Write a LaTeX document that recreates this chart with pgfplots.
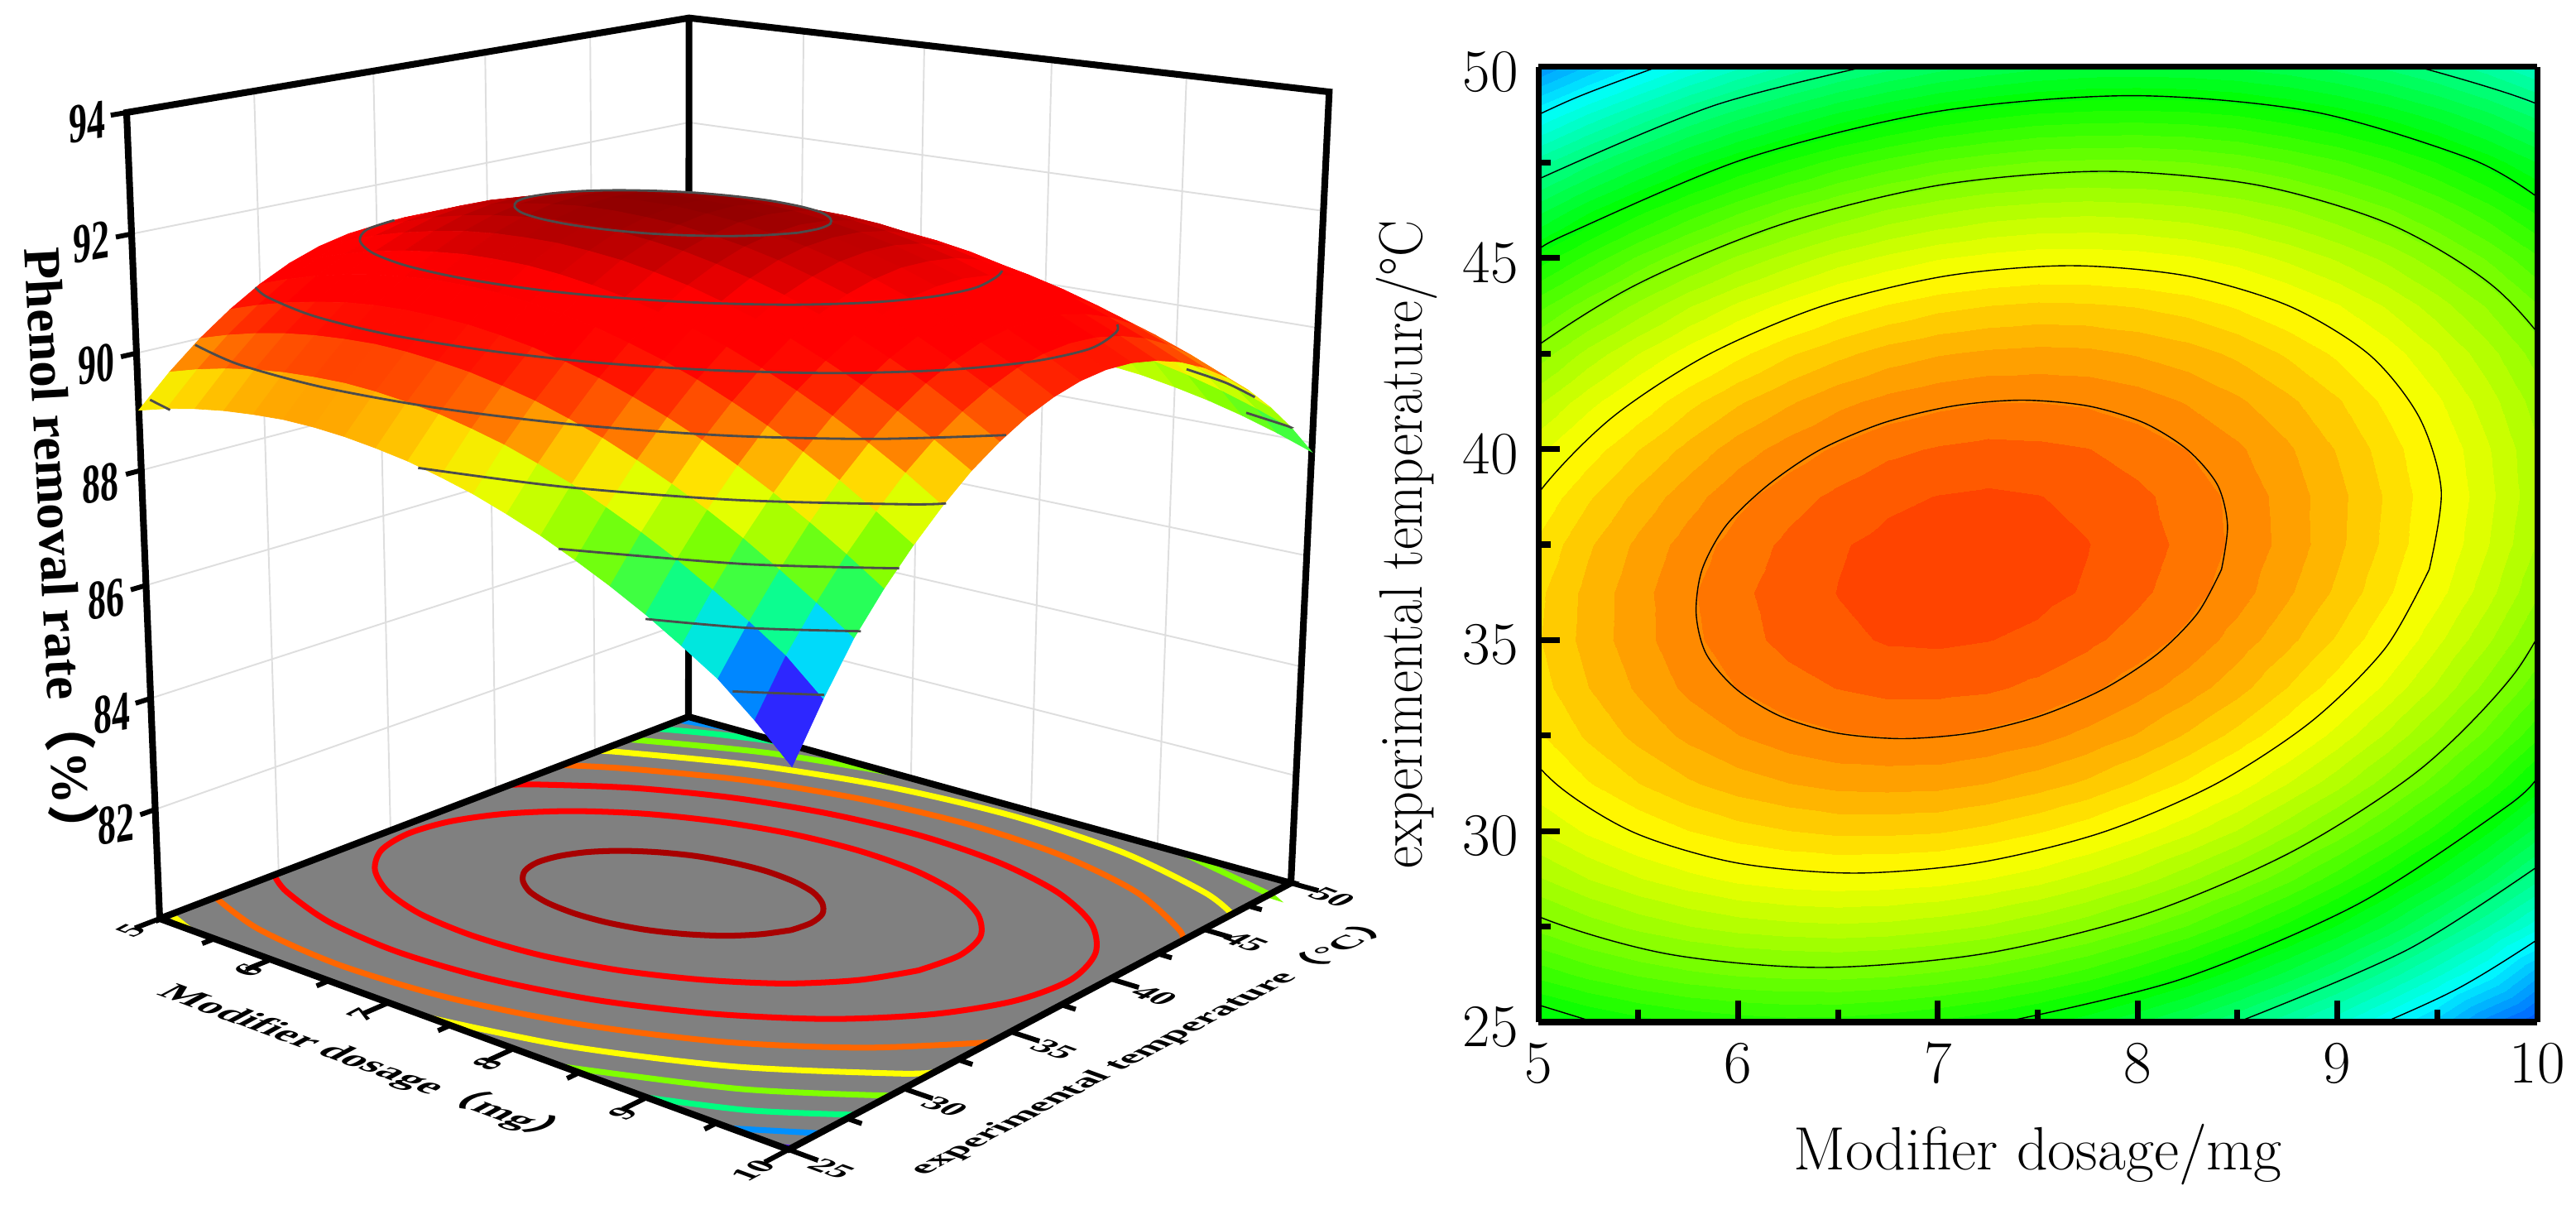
\documentclass[border=0pt]{standalone}
\usepackage{pgfplots}
\usepackage{pgfplotstable}
\usepackage{fontspec}
\pgfplotsset{compat=1.18}
\newfontfamily\tnr{Liberation Serif}
\newfontfamily\cjk{Noto Sans CJK SC}
% removal rate, x=dosage y=temperature z=rate
\pgfplotstableread[row sep=\\]{x y z\\%
5 25 89.03\\5 26.25 89.55\\5 27.5 90.00\\5 28.75 90.38\\5 30 90.70\\5 31.25 90.95\\5 32.5 91.13\\5 33.75 91.24\\5 35 91.29\\5 36.25 91.27\\5 37.5 91.18\\5 38.75 91.03\\5 40 90.81\\5 41.25 90.52\\5 42.5 90.16\\5 43.75 89.74\\5 45 89.25\\5 46.25 88.69\\5 47.5 88.07\\5 48.75 87.38\\5 50 86.62\\%
5.25 25 89.17\\5.25 26.25 89.70\\5.25 27.5 90.16\\5.25 28.75 90.55\\5.25 30 90.88\\5.25 31.25 91.14\\5.25 32.5 91.33\\5.25 33.75 91.45\\5.25 35 91.51\\5.25 36.25 91.50\\5.25 37.5 91.43\\5.25 38.75 91.28\\5.25 40 91.07\\5.25 41.25 90.79\\5.25 42.5 90.45\\5.25 43.75 90.03\\5.25 45 89.55\\5.25 46.25 89.01\\5.25 47.5 88.39\\5.25 48.75 87.71\\5.25 50 86.96\\%
5.5 25 89.28\\5.5 26.25 89.82\\5.5 27.5 90.29\\5.5 28.75 90.69\\5.5 30 91.03\\5.5 31.25 91.30\\5.5 32.5 91.50\\5.5 33.75 91.63\\5.5 35 91.70\\5.5 36.25 91.70\\5.5 37.5 91.64\\5.5 38.75 91.50\\5.5 40 91.30\\5.5 41.25 91.03\\5.5 42.5 90.70\\5.5 43.75 90.29\\5.5 45 89.83\\5.5 46.25 89.29\\5.5 47.5 88.68\\5.5 48.75 88.01\\5.5 50 87.27\\%
5.75 25 89.36\\5.75 26.25 89.91\\5.75 27.5 90.39\\5.75 28.75 90.80\\5.75 30 91.15\\5.75 31.25 91.43\\5.75 32.5 91.64\\5.75 33.75 91.79\\5.75 35 91.86\\5.75 36.25 91.88\\5.75 37.5 91.82\\5.75 38.75 91.69\\5.75 40 91.50\\5.75 41.25 91.25\\5.75 42.5 90.92\\5.75 43.75 90.53\\5.75 45 90.07\\5.75 46.25 89.54\\5.75 47.5 88.95\\5.75 48.75 88.29\\5.75 50 87.56\\%
6 25 89.41\\6 26.25 89.97\\6 27.5 90.46\\6 28.75 90.89\\6 30 91.24\\6 31.25 91.53\\6 32.5 91.75\\6 33.75 91.91\\6 35 92.00\\6 36.25 92.02\\6 37.5 91.97\\6 38.75 91.86\\6 40 91.68\\6 41.25 91.43\\6 42.5 91.11\\6 43.75 90.73\\6 45 90.28\\6 46.25 89.76\\6 47.5 89.18\\6 48.75 88.53\\6 50 87.81\\%
6.25 25 89.44\\6.25 26.25 90.00\\6.25 27.5 90.50\\6.25 28.75 90.94\\6.25 30 91.30\\6.25 31.25 91.60\\6.25 32.5 91.84\\6.25 33.75 92.00\\6.25 35 92.10\\6.25 36.25 92.13\\6.25 37.5 92.09\\6.25 38.75 91.99\\6.25 40 91.82\\6.25 41.25 91.58\\6.25 42.5 91.28\\6.25 43.75 90.90\\6.25 45 90.46\\6.25 46.25 89.96\\6.25 47.5 89.38\\6.25 48.75 88.74\\6.25 50 88.03\\%
6.5 25 89.43\\6.5 26.25 90.01\\6.5 27.5 90.52\\6.5 28.75 90.96\\6.5 30 91.34\\6.5 31.25 91.65\\6.5 32.5 91.89\\6.5 33.75 92.06\\6.5 35 92.17\\6.5 36.25 92.21\\6.5 37.5 92.19\\6.5 38.75 92.09\\6.5 40 91.93\\6.5 41.25 91.71\\6.5 42.5 91.41\\6.5 43.75 91.05\\6.5 45 90.62\\6.5 46.25 90.12\\6.5 47.5 89.56\\6.5 48.75 88.93\\6.5 50 88.23\\%
6.75 25 89.39\\6.75 26.25 89.98\\6.75 27.5 90.50\\6.75 28.75 90.95\\6.75 30 91.34\\6.75 31.25 91.66\\6.75 32.5 91.91\\6.75 33.75 92.10\\6.75 35 92.22\\6.75 36.25 92.27\\6.75 37.5 92.25\\6.75 38.75 92.17\\6.75 40 92.02\\6.75 41.25 91.80\\6.75 42.5 91.52\\6.75 43.75 91.16\\6.75 45 90.74\\6.75 46.25 90.26\\6.75 47.5 89.70\\6.75 48.75 89.08\\6.75 50 88.39\\%
7 25 89.32\\7 26.25 89.92\\7 27.5 90.45\\7 28.75 90.92\\7 30 91.32\\7 31.25 91.65\\7 32.5 91.91\\7 33.75 92.10\\7 35 92.23\\7 36.25 92.29\\7 37.5 92.29\\7 38.75 92.21\\7 40 92.07\\7 41.25 91.86\\7 42.5 91.59\\7 43.75 91.25\\7 45 90.84\\7 46.25 90.36\\7 47.5 89.82\\7 48.75 89.21\\7 50 88.53\\%
7.25 25 89.23\\7.25 26.25 89.84\\7.25 27.5 90.38\\7.25 28.75 90.85\\7.25 30 91.26\\7.25 31.25 91.60\\7.25 32.5 91.87\\7.25 33.75 92.08\\7.25 35 92.21\\7.25 36.25 92.29\\7.25 37.5 92.29\\7.25 38.75 92.23\\7.25 40 92.10\\7.25 41.25 91.90\\7.25 42.5 91.63\\7.25 43.75 91.30\\7.25 45 90.90\\7.25 46.25 90.44\\7.25 47.5 89.90\\7.25 48.75 89.30\\7.25 50 88.63\\%
7.5 25 89.10\\7.5 26.25 89.72\\7.5 27.5 90.27\\7.5 28.75 90.76\\7.5 30 91.17\\7.5 31.25 91.52\\7.5 32.5 91.81\\7.5 33.75 92.02\\7.5 35 92.17\\7.5 36.25 92.25\\7.5 37.5 92.27\\7.5 38.75 92.21\\7.5 40 92.09\\7.5 41.25 91.90\\7.5 42.5 91.65\\7.5 43.75 91.33\\7.5 45 90.94\\7.5 46.25 90.48\\7.5 47.5 89.96\\7.5 48.75 89.37\\7.5 50 88.71\\%
7.75 25 88.95\\7.75 26.25 89.58\\7.75 27.5 90.14\\7.75 28.75 90.63\\7.75 30 91.06\\7.75 31.25 91.42\\7.75 32.5 91.71\\7.75 33.75 91.94\\7.75 35 92.09\\7.75 36.25 92.19\\7.75 37.5 92.21\\7.75 38.75 92.17\\7.75 40 92.06\\7.75 41.25 91.88\\7.75 42.5 91.64\\7.75 43.75 91.32\\7.75 45 90.94\\7.75 46.25 90.50\\7.75 47.5 89.98\\7.75 48.75 89.40\\7.75 50 88.76\\%
8 25 88.76\\8 26.25 89.40\\8 27.5 89.97\\8 28.75 90.48\\8 30 90.91\\8 31.25 91.28\\8 32.5 91.59\\8 33.75 91.82\\8 35 91.99\\8 36.25 92.09\\8 37.5 92.13\\8 38.75 92.09\\8 40 91.99\\8 41.25 91.83\\8 42.5 91.59\\8 43.75 91.29\\8 45 90.92\\8 46.25 90.48\\8 47.5 89.98\\8 48.75 89.41\\8 50 88.77\\%
8.25 25 88.55\\8.25 26.25 89.20\\8.25 27.5 89.78\\8.25 28.75 90.29\\8.25 30 90.74\\8.25 31.25 91.12\\8.25 32.5 91.43\\8.25 33.75 91.68\\8.25 35 91.86\\8.25 36.25 91.97\\8.25 37.5 92.01\\8.25 38.75 91.99\\8.25 40 91.90\\8.25 41.25 91.74\\8.25 42.5 91.52\\8.25 43.75 91.23\\8.25 45 90.87\\8.25 46.25 90.44\\8.25 47.5 89.95\\8.25 48.75 89.39\\8.25 50 88.76\\%
8.5 25 88.30\\8.5 26.25 88.96\\8.5 27.5 89.55\\8.5 28.75 90.08\\8.5 30 90.54\\8.5 31.25 90.93\\8.5 32.5 91.25\\8.5 33.75 91.51\\8.5 35 91.69\\8.5 36.25 91.82\\8.5 37.5 91.87\\8.5 38.75 91.86\\8.5 40 91.78\\8.5 41.25 91.63\\8.5 42.5 91.42\\8.5 43.75 91.13\\8.5 45 90.79\\8.5 46.25 90.37\\8.5 47.5 89.89\\8.5 48.75 89.34\\8.5 50 88.72\\%
8.75 25 88.03\\8.75 26.25 88.70\\8.75 27.5 89.30\\8.75 28.75 89.84\\8.75 30 90.30\\8.75 31.25 90.70\\8.75 32.5 91.04\\8.75 33.75 91.30\\8.75 35 91.50\\8.75 36.25 91.63\\8.75 37.5 91.70\\8.75 38.75 91.69\\8.75 40 91.63\\8.75 41.25 91.49\\8.75 42.5 91.28\\8.75 43.75 91.01\\8.75 45 90.67\\8.75 46.25 90.27\\8.75 47.5 89.79\\8.75 48.75 89.25\\8.75 50 88.65\\%
9 25 87.73\\9 26.25 88.41\\9 27.5 89.02\\9 28.75 89.56\\9 30 90.04\\9 31.25 90.45\\9 32.5 90.79\\9 33.75 91.07\\9 35 91.28\\9 36.25 91.42\\9 37.5 91.49\\9 38.75 91.50\\9 40 91.44\\9 41.25 91.32\\9 42.5 91.12\\9 43.75 90.86\\9 45 90.53\\9 46.25 90.13\\9 47.5 89.67\\9 48.75 89.14\\9 50 88.54\\%
9.25 25 87.39\\9.25 26.25 88.08\\9.25 27.5 88.71\\9.25 28.75 89.26\\9.25 30 89.75\\9.25 31.25 90.17\\9.25 32.5 90.52\\9.25 33.75 90.81\\9.25 35 91.03\\9.25 36.25 91.18\\9.25 37.5 91.26\\9.25 38.75 91.28\\9.25 40 91.23\\9.25 41.25 91.11\\9.25 42.5 90.93\\9.25 43.75 90.68\\9.25 45 90.36\\9.25 46.25 89.97\\9.25 47.5 89.52\\9.25 48.75 89.00\\9.25 50 88.41\\%
9.5 25 87.03\\9.5 26.25 87.73\\9.5 27.5 88.36\\9.5 28.75 88.93\\9.5 30 89.43\\9.5 31.25 89.86\\9.5 32.5 90.22\\9.5 33.75 90.52\\9.5 35 90.74\\9.5 36.25 90.91\\9.5 37.5 91.00\\9.5 38.75 91.03\\9.5 40 90.99\\9.5 41.25 90.88\\9.5 42.5 90.71\\9.5 43.75 90.47\\9.5 45 90.16\\9.5 46.25 89.78\\9.5 47.5 89.34\\9.5 48.75 88.83\\9.5 50 88.25\\%
9.75 25 86.55\\9.75 26.25 87.35\\9.75 27.5 87.99\\9.75 28.75 88.57\\9.75 30 89.07\\9.75 31.25 89.52\\9.75 32.5 89.89\\9.75 33.75 90.19\\9.75 35 90.43\\9.75 36.25 90.61\\9.75 37.5 90.71\\9.75 38.75 90.75\\9.75 40 90.72\\9.75 41.25 90.62\\9.75 42.5 90.46\\9.75 43.75 90.23\\9.75 45 89.93\\9.75 46.25 89.56\\9.75 47.5 89.13\\9.75 48.75 88.63\\9.75 50 88.06\\%
10 25 86.00\\10 26.25 86.84\\10 27.5 87.59\\10 28.75 88.18\\10 30 88.69\\10 31.25 89.14\\10 32.5 89.53\\10 33.75 89.84\\10 35 90.09\\10 36.25 90.27\\10 37.5 90.39\\10 38.75 90.44\\10 40 90.42\\10 41.25 90.33\\10 42.5 90.18\\10 43.75 89.96\\10 45 89.67\\10 46.25 89.31\\10 47.5 88.89\\10 48.75 88.40\\10 50 87.84\\%
}\surfdata
% contour traces on the floor of the 3D panel
\pgfplotstableread[row sep=\\]{x y\\8.09 36.85\\8.11 37.70\\8.07 38.49\\7.96 39.17\\7.80 39.70\\7.59 40.02\\7.34 40.14\\7.09 40.02\\6.83 39.70\\6.60 39.17\\6.40 38.49\\6.25 37.70\\6.16 36.85\\6.13 36.00\\6.17 35.21\\6.28 34.53\\6.44 34.00\\6.65 33.68\\6.90 33.57\\7.15 33.68\\7.41 34.00\\7.64 34.53\\7.84 35.21\\7.99 36.00\\8.09 36.85\\}\lA
\pgfplotstableread[row sep=\\]{x y\\9.06 36.85\\9.11 38.56\\9.03 40.16\\8.81 41.53\\8.48 42.58\\8.06 43.24\\7.57 43.46\\7.05 43.24\\6.54 42.58\\6.06 41.53\\5.66 40.16\\5.36 38.56\\5.18 36.85\\5.13 35.14\\5.21 33.54\\5.43 32.17\\5.76 31.12\\6.18 30.46\\6.67 30.24\\7.19 30.46\\7.70 31.12\\8.17 32.17\\8.58 33.54\\8.88 35.14\\9.06 36.85\\}\lB
\pgfplotstableread[row sep=\\]{x y\\5 40.7\\5.14 41.34\\5.69 43.20\\6.33 44.63\\7.03 45.52\\7.73 45.83\\8.39 45.52\\8.97 44.63\\9.42 43.20\\9.71 41.34\\9.83 39.17\\9.76 36.85\\9.51 34.53\\9.10 32.36\\8.55 30.50\\7.91 29.07\\7.21 28.18\\6.51 27.87\\5.85 28.18\\5.27 29.07\\5 29.8\\}\lC
\pgfplotstableread[row sep=\\]{x y\\5 43.3\\5.40 44.50\\6.17 46.22\\7.01 47.30\\7.86 47.67\\8.65 47.30\\9.35 46.22\\9.89 44.50\\10 43.8\\}\lDa
\pgfplotstableread[row sep=\\]{x y\\10 34.05\\9.50 31.44\\8.85 29.20\\8.07 27.48\\7.23 26.40\\6.38 26.03\\5.59 26.40\\5 27.3\\}\lDb
\pgfplotstableread[row sep=\\]{x y\\5 45.2\\5.14 45.62\\6.03 47.59\\6.99 48.83\\7.97 49.25\\8.88 48.83\\9.67 47.59\\10 46.6\\}\lEa
\pgfplotstableread[row sep=\\]{x y\\10 31.4\\9.85 30.65\\9.10 28.08\\8.21 26.11\\7.33 25\\}\lEb
\pgfplotstableread[row sep=\\]{x y\\5 25.45\\5.28 25\\}\lEc
\pgfplotstableread[row sep=\\]{x y\\5 46.8\\5.91 48.81\\6.83 50\\}\lFa
\pgfplotstableread[row sep=\\]{x y\\9.20 50\\9.96 48.81\\10 48.7\\}\lFb
\pgfplotstableread[row sep=\\]{x y\\10 29.4\\9.32 27.08\\8.38 25\\}\lFc
\pgfplotstableread[row sep=\\]{x y\\5 48.3\\5.4 49.2\\5.85 50\\}\lGa
\pgfplotstableread[row sep=\\]{x y\\10 27.8\\9.53 26.18\\9 25\\}\lGb
\pgfplotstableread[row sep=\\]{x y\\5 49.5\\5.4 50\\}\lHa
\pgfplotstableread[row sep=\\]{x y\\10 26.3\\9.71 25.35\\9.6 25\\}\lHb
\pgfplotstableread[row sep=\\]{x y\\10 25.12\\9.95 25\\}\lIa
% visible stretches of the same traces on the surface
\pgfplotstableread[row sep=\\]{x y\\5.13 35.14\\5.21 33.54\\5.43 32.17\\5.76 31.12\\6.18 30.46\\6.67 30.24\\7.19 30.46\\7.70 31.12\\8.17 32.17\\8.58 33.54\\8.88 35.14\\9.06 36.85\\9.11 38.56\\9.03 40.16\\8.95 41\\}\sB
\pgfplotstableread[row sep=\\]{x y\\5 29.8\\5.27 29.07\\5.85 28.18\\6.51 27.87\\7.21 28.18\\7.91 29.07\\8.55 30.50\\9.10 32.36\\9.51 34.53\\9.76 36.85\\9.83 39.17\\9.71 41.34\\9.6 42.2\\}\sC
\pgfplotstableread[row sep=\\]{x y\\9.3 48.3\\9.67 47.59\\10 46.6\\}\sEa
\pgfplotstableread[row sep=\\]{x y\\9.6 49.4\\9.96 48.81\\10 48.7\\}\sFb
% contour traces of the flat panel
\pgfplotstableread[row sep=\\]{x y\\8.42 36.85\\8.45 38.00\\8.40 39.06\\8.25 39.98\\8.03 40.69\\7.75 41.13\\7.42 41.28\\7.08 41.13\\6.73 40.69\\6.41 39.98\\6.15 39.06\\5.94 38.00\\5.82 36.85\\5.79 35.70\\5.84 34.64\\5.99 33.72\\6.21 33.01\\6.49 32.57\\6.82 32.42\\7.17 32.57\\7.51 33.01\\7.83 33.72\\8.10 34.64\\8.30 35.70\\8.42 36.85\\}\rA
\pgfplotstableread[row sep=\\]{x y\\9.46 36.85\\9.52 38.91\\9.41 40.83\\9.16 42.47\\8.76 43.74\\8.25 44.53\\7.66 44.80\\7.04 44.53\\6.42 43.74\\5.85 42.47\\5.37 40.83\\5.01 38.91\\4.79 36.85\\4.72 34.79\\4.83 32.87\\5.09 31.23\\5.48 29.96\\5.99 29.17\\6.58 28.90\\7.20 29.17\\7.82 29.96\\8.39 31.23\\8.87 32.87\\9.24 34.79\\9.46 36.85\\}\rB
\pgfplotstableread[row sep=\\]{x y\\10.18 36.85\\10.26 39.55\\10.13 42.06\\9.79 44.22\\9.27 45.87\\8.60 46.91\\7.83 47.27\\7.01 46.91\\6.21 45.87\\5.46 44.22\\4.83 42.06\\4.35 39.55\\4.06 36.85\\3.98 34.15\\4.12 31.64\\4.45 29.48\\4.97 27.83\\5.64 26.79\\6.41 26.43\\7.23 26.79\\8.04 27.83\\8.78 29.48\\9.42 31.64\\9.89 34.15\\10.18 36.85\\}\rC
\pgfplotstableread[row sep=\\]{x y\\4.88 46.78\\5.89 49.01\\6.98 50.41\\}\rEa
\pgfplotstableread[row sep=\\]{x y\\9.11 50.41\\10.01 49.01\\10.71 46.78\\}\rEb
\pgfplotstableread[row sep=\\]{x y\\8.35 24.69\\9.36 26.92\\10.21 29.83\\}\rEc
\pgfplotstableread[row sep=\\]{x y\\4.64 47.84\\5.18 49.18\\5.76 50.31\\}\rFa
\pgfplotstableread[row sep=\\]{x y\\8.485 23.40\\9.60 25.87\\10.54 29.08\\}\rFb

\pgfplotsset{
  colormap={rsmone}{rgb255=(80,0,255) rgb255=(0,90,255) rgb255=(0,215,255) rgb255=(0,250,185) rgb255=(24,255,104) rgb255=(75,255,53) rgb255=(126,255,2) rgb255=(177,255,0) rgb255=(228,255,0) rgb255=(255,226,0) rgb255=(255,165,0) rgb255=(255,104,0) rgb255=(255,63,0) rgb255=(255,22,0) rgb255=(255,0,0) rgb255=(255,0,0) rgb255=(255,0,0) rgb255=(218,0,0) rgb255=(180,0,0) rgb255=(139,0,0)},
  colormap={rsmbands}{rgb255=(0,91,255) rgb255=(0,113,255) rgb255=(0,135,255) rgb255=(0,157,255) rgb255=(0,179,255) rgb255=(0,201,255) rgb255=(0,223,255) rgb255=(0,245,255) rgb255=(0,255,243) rgb255=(0,255,222) rgb255=(0,255,201) rgb255=(0,255,179) rgb255=(0,255,158) rgb255=(0,255,137) rgb255=(0,255,115) rgb255=(0,255,93) rgb255=(0,255,72) rgb255=(0,255,50) rgb255=(0,255,28) rgb255=(0,255,6) rgb255=(15,255,0) rgb255=(36,255,0) rgb255=(57,255,0) rgb255=(78,255,0) rgb255=(99,255,0) rgb255=(119,255,0) rgb255=(140,255,0) rgb255=(161,255,0) rgb255=(181,255,0) rgb255=(202,255,0) rgb255=(223,255,0) rgb255=(244,255,0) rgb255=(255,246,0) rgb255=(255,224,0) rgb255=(255,203,0) rgb255=(255,181,0) rgb255=(255,160,0) rgb255=(255,138,0) rgb255=(255,117,0) rgb255=(255,90,0) rgb255=(255,68,0)},
  table/proj/.style={x expr={pxx(\thisrow{x},\thisrow{y},\thisrow{z})},y expr={1455-pyy(\thisrow{x},\thisrow{y},\thisrow{z})},z expr={0}},
  table/lev/.style={x expr={pxx(\thisrow{x},\thisrow{y},#1)},y expr={1455-pyy(\thisrow{x},\thisrow{y},#1)},z index=1,z expr={0}},
  table/flat/.style={x=x,y=y,z index=1,z expr={93}},
}
\definecolor{lvA}{RGB}{168,0,0}
\definecolor{lvB}{RGB}{255,0,0}
\definecolor{lvD}{RGB}{255,102,0}
\definecolor{lvE}{RGB}{255,255,0}
\definecolor{lvF}{RGB}{128,255,0}
\definecolor{lvG}{RGB}{0,255,128}
\definecolor{lvH}{RGB}{0,144,255}
\definecolor{lvI}{RGB}{80,0,255}
\definecolor{wallgrid}{RGB}{222,222,222}
\definecolor{floorgray}{RGB}{128,128,128}

\begin{document}
\begin{tikzpicture}
\useasboundingbox (0,0) rectangle (31.13,14.55);
\begin{axis}[
  at={(0cm,0cm)},anchor=south west,
  scale only axis,width=31.13cm,height=14.55cm,
  xmin=0,xmax=3113,ymin=0,ymax=1455,zmin=-3,zmax=3,
  view={0}{90},hide axis,clip=false,
  colormap name=rsmone,point meta min=86.85,point meta max=92.3,
  unbounded coords=jump,
  declare function={
    dnm(\a,\b,\c)=1-0.14127*(\a-5)/5+0.16175*(\b-25)/25-0.06*(\c-80)/14;
    pxx(\a,\b,\c)=(625.37*(\a-5)/5+773.58*(\b-25)/25-49.18*(\c-80)/14+193)/dnm(\a,\b,\c);
    pyy(\a,\b,\c)=(82.78*(\a-5)/5-103.92*(\b-25)/25-982.16*(\c-80)/14+1110)/dnm(\a,\b,\c);
  },
]
% wall grid
\addplot3[wallgrid,line width=0.55pt] table[proj,row sep=\\]{x y z\\%
5 25 82\\5 50 82\\10 50 82\\nan nan nan\\5 25 84\\5 50 84\\10 50 84\\nan nan nan\\5 25 86\\5 50 86\\10 50 86\\nan nan nan\\5 25 88\\5 50 88\\10 50 88\\nan nan nan\\5 25 90\\5 50 90\\10 50 90\\nan nan nan\\5 25 92\\5 50 92\\10 50 92\\nan nan nan\\%
5 30 80\\5 30 94\\nan nan nan\\5 35 80\\5 35 94\\nan nan nan\\5 40 80\\5 40 94\\nan nan nan\\5 45 80\\5 45 94\\nan nan nan\\6 50 80\\6 50 94\\nan nan nan\\7 50 80\\7 50 94\\nan nan nan\\8 50 80\\8 50 94\\nan nan nan\\9 50 80\\9 50 94\\};
% floor
\addplot3[fill=floorgray,draw=none] table[proj,row sep=\\]{x y z\\5 25 80\\10 25 80\\10 50 80\\5 50 80\\5 25 80\\};
% floor contours
\addplot3[lvA,line width=2pt,smooth] table[lev=80]{\lA};
\addplot3[lvB,line width=2pt,smooth] table[lev=80]{\lB};
\addplot3[lvB,line width=2pt,smooth] table[lev=80]{\lC};
\addplot3[lvD,line width=2pt,smooth] table[lev=80]{\lDa};
\addplot3[lvD,line width=2pt,smooth] table[lev=80]{\lDb};
\addplot3[lvE,line width=2pt,smooth] table[lev=80]{\lEa};
\addplot3[lvE,line width=2pt,smooth] table[lev=80]{\lEb};
\addplot3[lvE,line width=2pt] table[lev=80]{\lEc};
\addplot3[lvF,line width=2pt,smooth] table[lev=80]{\lFa};
\addplot3[lvF,line width=2pt,smooth] table[lev=80]{\lFb};
\addplot3[lvF,line width=2pt,smooth] table[lev=80]{\lFc};
\addplot3[lvG,line width=2pt,smooth] table[lev=80]{\lGa};
\addplot3[lvG,line width=2pt,smooth] table[lev=80]{\lGb};
\addplot3[lvH,line width=2pt] table[lev=80]{\lHa};
\addplot3[lvH,line width=2pt,smooth] table[lev=80]{\lHb};
\addplot3[lvI,line width=2pt] table[lev=80]{\lIa};
% frame
\addplot3[black,line width=2.3pt,line join=miter] table[proj,row sep=\\]{x y z\\5 25 80\\10 25 80\\10 50 80\\5 50 80\\5 25 80\\5 25 94\\5 50 94\\10 50 94\\10 50 80\\nan nan nan\\5 50 80\\5 50 94\\};
% ticks
\addplot3[black,line width=1.7pt] table[proj,row sep=\\]{x y z\\%
5 25 80\\5 24 80\\nan nan nan\\5.5 25 80\\5.5 24.5 80\\nan nan nan\\6 25 80\\6 24 80\\nan nan nan\\6.5 25 80\\6.5 24.5 80\\nan nan nan\\7 25 80\\7 24 80\\nan nan nan\\7.5 25 80\\7.5 24.5 80\\nan nan nan\\8 25 80\\8 24 80\\nan nan nan\\8.5 25 80\\8.5 24.5 80\\nan nan nan\\9 25 80\\9 24 80\\nan nan nan\\9.5 25 80\\9.5 24.5 80\\nan nan nan\\10 25 80\\10 24 80\\nan nan nan\\%
10 25 80\\10.2 25 80\\nan nan nan\\10 27.5 80\\10.1 27.5 80\\nan nan nan\\10 30 80\\10.2 30 80\\nan nan nan\\10 32.5 80\\10.1 32.5 80\\nan nan nan\\10 35 80\\10.2 35 80\\nan nan nan\\10 37.5 80\\10.1 37.5 80\\nan nan nan\\10 40 80\\10.2 40 80\\nan nan nan\\10 42.5 80\\10.1 42.5 80\\nan nan nan\\10 45 80\\10.2 45 80\\nan nan nan\\10 47.5 80\\10.1 47.5 80\\nan nan nan\\10 50 80\\10.2 50 80\\nan nan nan\\%
5 25 82\\5 24.4 82\\nan nan nan\\5 25 84\\5 24.4 84\\nan nan nan\\5 25 86\\5 24.4 86\\nan nan nan\\5 25 88\\5 24.4 88\\nan nan nan\\5 25 90\\5 24.4 90\\nan nan nan\\5 25 92\\5 24.4 92\\nan nan nan\\5 25 94\\5 24.4 94\\};
% surface
\addplot3[surf,shader=faceted,faceted color=mapped color,line width=0.2pt,z buffer=sort,mesh/rows=21,mesh/cols=21,mesh/ordering=y varies,point meta=\thisrow{z}]
  table[x expr={pxx(\thisrow{x},\thisrow{y},\thisrow{z})},y expr={1455-pyy(\thisrow{x},\thisrow{y},\thisrow{z})},z expr={(\thisrow{x}-5)/5-(\thisrow{y}-25)/25+0.8*(\thisrow{z}-80)/14}]{\surfdata};
% surface contours
\addplot3[black!70,line width=0.8pt,smooth] table[lev=92.09]{\lA};
\addplot3[black!70,line width=0.8pt,smooth] table[lev=91.41]{\sB};
\addplot3[black!70,line width=0.8pt,smooth] table[lev=90.66]{\sC};
\addplot3[black!70,line width=0.8pt,smooth] table[lev=89.91]{\lDb};
\addplot3[black!70,line width=0.8pt,smooth] table[lev=89.16]{\lEb};
\addplot3[black!70,line width=0.8pt] table[lev=89.16]{\lEc};
\addplot3[black!70,line width=0.8pt,smooth] table[lev=89.16]{\sEa};
\addplot3[black!70,line width=0.8pt,smooth] table[lev=88.41]{\lFc};
\addplot3[black!70,line width=0.8pt,smooth] table[lev=88.41]{\sFb};
\addplot3[black!70,line width=0.8pt,smooth] table[lev=87.66]{\lGb};
\addplot3[black!70,line width=0.8pt,smooth] table[lev=86.90]{\lHb};
\end{axis}
% flat panel
\begin{axis}[
  at={(18.59cm,2.20cm)},anchor=south west,
  scale only axis,width=12.07cm,height=11.54cm,
  xmin=5,xmax=10,ymin=25,ymax=50,zmin=85,zmax=94,
  view={0}{90},
  xtick={5,6,7,8,9,10},ytick={25,30,35,40,45,50},
  minor x tick num=1,minor y tick num=1,
  tick align=inside,xtick pos=lower,ytick pos=left,
  major tick length=0.26cm,minor tick length=0.15cm,
  axis line style={line width=2pt},
  tick style={black,line width=2pt},
  every tick label/.append style={font=\fontsize{19.5}{19.5}\selectfont},
  xticklabel style={yshift=-0.14cm},
  yticklabel style={xshift=-0.12cm,yshift=-0.06cm},
  xlabel={Modifier dosage/mg},ylabel={experimental temperature/\textdegree C},
  xlabel style={font=\fontsize{21}{21}\selectfont,at={(axis description cs:0.5,0)},anchor=center,yshift=-1.6cm},
  ylabel style={font=\fontsize{18.8}{18.8}\selectfont,at={(axis description cs:0,0.5)},anchor=center,yshift=1.59cm,yscale=1.12},
  colormap name=rsmbands,point meta min=86.185,point meta max=92.356,
  axis on top,
]
\addplot3[surf,shader=interp,colormap access=piecewise constant,mesh/rows=21,mesh/cols=21,mesh/ordering=y varies,point meta=\thisrow{z}] table[x=x,y=y,z=z]{\surfdata};
\addplot3[black,line width=0.4pt,smooth] table[flat]{\rA};
\addplot3[black,line width=0.4pt,smooth] table[flat]{\rB};
\addplot3[black,line width=0.4pt,smooth] table[flat]{\rC};
\addplot3[black,line width=0.4pt,smooth] table[flat]{\lEa};
\addplot3[black,line width=0.4pt,smooth] table[flat]{\lEb};
\addplot3[black,line width=0.4pt] table[flat]{\lEc};
\addplot3[black,line width=0.4pt,smooth] table[flat]{\rEa};
\addplot3[black,line width=0.4pt,smooth] table[flat]{\rEb};
\addplot3[black,line width=0.4pt,smooth] table[flat]{\rEc};
\addplot3[black,line width=0.4pt,smooth] table[flat]{\rFa};
\addplot3[black,line width=0.4pt,smooth] table[flat]{\rFb};
\end{axis}
% labels of the 3D panel
\tikzset{ztl/.style={font=\fontsize{16}{16}\tnr\bfseries,cm={0.78,0.13,0,1.2,(0,0)}},
  xtl/.style={font=\fontsize{12.5}{12.5}\tnr\bfseries,cm={0.84,0.445,-0.816,0.30,(0,0)}},
  ytl/.style={font=\fontsize{12.5}{12.5}\tnr\bfseries,cm={0.938,-0.344,0.75,0.4,(0,0)}}}
\node[ztl] at (1.05,13.07) {94};
\node[ztl] at (1.10,11.62) {92};
\node[ztl] at (1.16,10.15) {90};
\node[ztl] at (1.21,8.71) {88};
\node[ztl] at (1.28,7.31) {86};
\node[ztl] at (1.35,5.93) {84};
\node[ztl] at (1.40,4.59) {82};
\node[xtl] at (1.58,3.31) {5};
\node[xtl] at (3.00,2.83) {6};
\node[xtl] at (4.37,2.29) {7};
\node[xtl] at (5.89,1.70) {8};
\node[xtl] at (7.53,1.10) {9};
\node[xtl] at (9.10,0.41) {10};
\node[ytl] at (10.05,0.43) {25};
\node[ytl] at (11.42,1.18) {30};
\node[ytl] at (12.74,1.87) {35};
\node[ytl] at (13.95,2.52) {40};
\node[ytl] at (15.05,3.17) {45};
\node[ytl] at (16.10,3.71) {50};
\node[font=\fontsize{18}{18}\tnr\bfseries,rotate=-87] at (0.73,7.88) {Phenol removal rate{\cjk（}\%{\cjk）}};
\node[font=\fontsize{14.5}{14.5}\tnr\bfseries,cm={0.938,-0.344,0.75,0.4,(0,0)}] at (4.46,1.70) {Modifier dosage{\cjk（}mg{\cjk）}};
\node[font=\fontsize{13}{13}\tnr\bfseries,cm={0.883,0.469,-0.8,0.29,(0,0)}] at (13.94,1.92) {experimental temperature{\cjk（}\textdegree C{\cjk）}};
\end{tikzpicture}
\end{document}
